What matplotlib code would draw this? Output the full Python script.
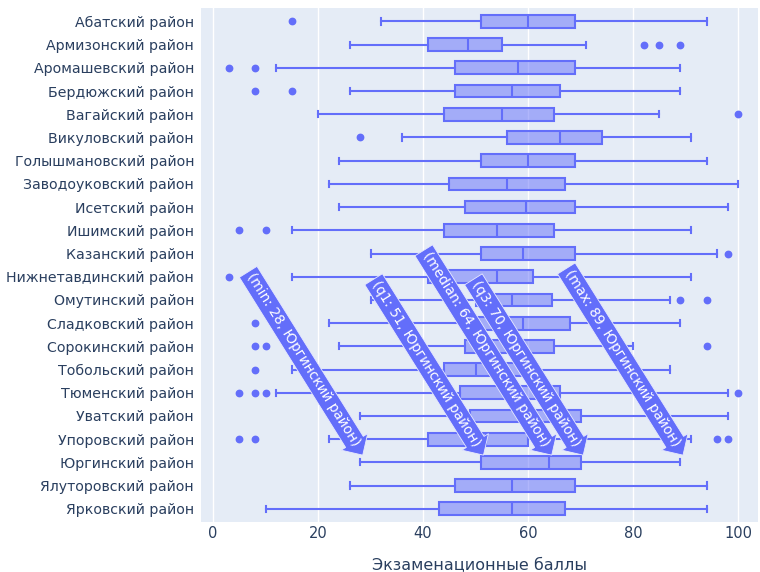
import numpy as np
import matplotlib
matplotlib.use("Agg")
from matplotlib import pyplot as plt

districts = [
    "Абатский район", "Армизонский район", "Аромашевский район",
    "Бердюжский район", "Вагайский район", "Викуловский район",
    "Голышмановский район", "Заводоуковский район", "Исетский район",
    "Ишимский район", "Казанский район", "Нижнетавдинский район",
    "Омутинский район", "Сладковский район", "Сорокинский район",
    "Тобольский район", "Тюменский район", "Уватский район",
    "Упоровский район", "Юргинский район", "Ялуторовский район",
    "Ярковский район",
]
# min whisker, q1, median, q3, max whisker
whislo = [32, 26, 12, 26, 20, 36, 24, 22, 24, 15, 30, 15, 30, 22, 24, 15, 12, 28, 22, 28, 26, 10]
q1 = [51, 41, 46, 46, 44, 56, 51, 45, 48, 44, 51, 41, 50, 50, 48, 44, 47, 49, 41, 51, 46, 43]
med = [60, 48.5, 58, 57, 55, 66, 60, 56, 59.5, 54, 59, 54, 57, 59, 56, 50, 57, 60, 52, 64, 57, 57]
q3 = [69, 55, 69, 66, 65, 74, 69, 67, 69, 65, 69, 61, 64.5, 68, 65, 60, 66, 70, 60, 70, 69, 67]
whishi = [94, 71, 89, 89, 85, 91, 94, 100, 98, 91, 96, 91, 87, 89, 80, 87, 98, 98, 91, 89, 94, 94]
fliers = [
    [15], [82, 85, 89], [3, 8], [8, 15], [100], [28], [], [], [], [5, 10],
    [98], [3], [89, 94], [8], [8, 10, 94], [8], [5, 8, 10, 100], [],
    [5, 8, 96, 98], [], [], [],
]

hover_district = "Юргинский район"
hover_keys = ["min", "q1", "median", "q3", "max"]

BLUE = "#636efa"
BG = "#e5ecf6"
TXT = "#2a3f5f"

stats = []
for i, name in enumerate(districts):
    stats.append(dict(label=name, whislo=whislo[i], q1=q1[i], med=med[i],
                      q3=q3[i], whishi=whishi[i], fliers=fliers[i]))

fig = plt.figure(figsize=(7.6, 5.72), dpi=100)
ax = fig.add_axes([0.2645, 0.087, 0.733, 0.899])
ax.set_facecolor(BG)

pos = np.arange(len(districts))
lw = 1.5
ax.bxp(stats, positions=pos, vert=False, widths=0.55, capwidths=0.27,
       patch_artist=True, showfliers=True,
       boxprops=dict(facecolor=(0.388, 0.431, 0.98, 0.5), edgecolor=BLUE, linewidth=lw),
       medianprops=dict(color=BLUE, linewidth=lw),
       whiskerprops=dict(color=BLUE, linewidth=lw),
       capprops=dict(color=BLUE, linewidth=lw),
       flierprops=dict(marker="o", markerfacecolor=BLUE, markeredgecolor=BLUE,
                       markersize=4.6, linestyle="none"))

ax.set_xlim(-2.3, 103.8)
ax.set_ylim(len(districts) - 0.42, -0.58)
ax.set_xticks([0, 20, 40, 60, 80, 100])
ax.set_yticks(pos)
ax.set_yticklabels(districts)
ax.grid(axis="x", color="white", linewidth=1)
ax.set_axisbelow(True)
for s in ax.spines.values():
    s.set_visible(False)
ax.tick_params(length=0, colors=TXT, labelsize=10.2)
ax.tick_params(axis="x", pad=3, labelsize=10.5)
ax.tick_params(axis="y", pad=5)
ax.set_xlabel("Экзаменационные баллы", color=TXT, fontsize=11.5, labelpad=12)

# hover labels for one district
k = districts.index(hover_district)
vals = [whislo[k], q1[k], med[k], q3[k], whishi[k]]
ang = -58
d = 14
ux, uy = np.cos(np.radians(ang)), np.sin(np.radians(ang))
for key, v in zip(hover_keys, vals):
    txt = "(%s: %g, %s)" % (key, v, hover_district)
    ax.annotate(txt, xy=(v, k), xytext=(-ux * d + 4, -uy * d + 5),
                textcoords="offset pixels", rotation=ang, rotation_mode="anchor",
                ha="right", va="center", color="white", fontsize=9.8,
                bbox=dict(boxstyle="rarrow,pad=0.25", fc=BLUE, ec="#e8eaff", lw=0.6),
                zorder=10)

fig.savefig("out.png", dpi=100)
